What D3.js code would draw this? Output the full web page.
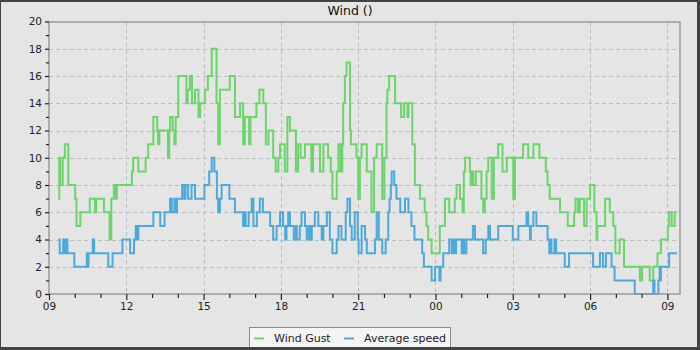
<!DOCTYPE html>
<html>
<head>
<meta charset="utf-8">
<script src="https://cdn.jsdelivr.net/npm/d3@7"></script>
<style>
  html, body { margin: 0; padding: 0; background: #e5e5e5; }
  svg { display: block; font-family: "DejaVu Sans", sans-serif; }
</style>
</head>
<body>
<svg id="chart" width="700" height="350"></svg>
<script>
// Wind gust, step changes (local time, next-day rollover handled below)
const gustTimes = ["09:22","09:24","09:26","09:32","09:37","09:45","10:01","10:04","10:13","10:35","10:47","10:50","11:08","11:21","11:25","11:31","11:35","11:38","12:13","12:16","12:28","12:45","12:51","13:03","13:12","13:14","13:17","13:37","13:40","13:42","13:48","13:52","13:55","14:01","14:20","14:23","14:28","14:33","14:40","14:48","14:52","15:03","15:10","15:19","15:30","15:34","15:38","16:01","16:13","16:25","16:32","16:36","16:46","16:49","17:03","17:10","17:19","17:25","17:31","17:42","17:48","17:54","17:58","18:09","18:15","18:21","18:35","18:40","18:46","18:56","19:11","19:15","19:31","19:39","19:50","19:56","20:00","20:10","20:14","20:19","20:23","20:25","20:29","20:33","20:41","20:43","20:56","21:00","21:04","21:08","21:20","21:31","21:37","21:43","21:56","22:01","22:06","22:08","22:12","22:26","22:40","22:47","22:55","22:57","23:06","23:12","23:24","23:35","23:39","23:43","23:51","00:10","00:22","00:32","00:45","00:49","00:57","01:03","01:06","01:09","01:20","01:22","01:25","01:28","01:34","01:47","01:51","01:55","01:59","02:03","02:11","02:16","02:26","02:36","02:46","03:01","03:05","03:24","03:36","03:48","04:02","04:17","04:21","04:26","04:50","05:08","05:23","05:26","05:32","05:36","05:46","05:52","06:00","06:10","06:15","06:17","06:35","06:46","06:54","06:59","07:09","07:19","07:56","08:01","08:19","08:27","08:37","08:45","09:01","09:04","09:10","09:17","09:22"];
const gustValues = [7,10,8,10,11,8,7,5,6,7,6,7,6,4,7,8,7,8,9,10,9,10,11,13,12,11,12,10,12,13,12,11,13,16,14,15,16,14,15,13,14,15,16,18,14,11,15,16,13,14,11,13,11,13,14,15,14,11,12,10,9,10,11,9,13,12,9,11,10,11,9,11,9,11,10,9,7,9,11,9,11,14,16,17,12,11,10,7,10,11,9,6,10,11,7,10,14,15,16,14,13,14,13,14,11,8,7,6,5,4,3,5,7,6,7,8,7,6,9,10,9,8,9,8,9,7,6,7,9,10,7,10,11,9,10,7,10,11,10,11,10,9,8,7,6,5,6,7,6,7,5,7,8,6,4,5,7,6,5,3,4,2,1,2,1,2,3,4,5,6,5,6,6];

// Average wind speed, step changes
const avgTimes = ["09:22","09:25","09:33","09:35","09:39","09:43","09:59","10:28","10:31","10:32","10:42","10:45","11:18","11:28","11:51","12:09","12:18","12:22","12:25","12:28","13:03","13:19","13:29","13:42","13:46","13:52","13:55","13:58","14:10","14:15","14:18","14:24","14:32","14:40","15:02","15:13","15:19","15:25","15:31","15:34","15:38","15:42","16:00","16:13","16:32","16:35","16:38","16:45","16:52","16:56","17:04","17:11","17:18","17:35","17:42","17:50","17:58","18:05","18:10","18:13","18:17","18:21","18:30","18:35","18:37","18:44","18:48","18:56","19:00","19:05","19:08","19:12","19:19","19:27","19:35","19:39","19:47","19:54","20:00","20:10","20:14","20:21","20:31","20:35","20:41","20:45","20:52","20:59","21:01","21:08","21:16","21:20","21:39","21:43","21:48","21:56","22:04","22:10","22:13","22:16","22:18","22:24","22:29","22:38","22:49","22:57","23:04","23:11","23:29","23:33","23:51","23:59","00:09","00:12","00:18","00:32","00:38","00:42","00:44","00:48","01:01","01:05","01:07","01:12","01:27","01:32","01:51","01:57","02:03","02:07","02:26","03:00","03:13","03:32","03:36","03:40","03:42","03:48","03:55","04:21","04:25","04:28","04:30","04:37","04:41","05:01","05:11","06:07","06:23","06:30","06:37","06:50","06:57","07:44","08:27","08:30","08:39","08:42","08:44","08:45","09:04","09:22"];
const avgValues = [4,3,4,3,4,3,2,3,2,3,4,3,2,3,4,3,4,5,4,5,6,5,6,7,6,7,6,7,8,7,8,7,8,7,8,9,10,9,7,6,7,8,7,6,5,6,5,6,7,5,6,7,6,5,4,5,6,5,4,5,6,5,4,5,4,5,6,5,4,5,4,5,6,5,4,5,6,4,3,4,5,4,6,7,5,4,6,4,3,5,4,3,4,6,4,3,4,6,7,8,9,8,7,6,7,6,5,4,3,2,1,2,1,2,3,4,3,4,3,4,3,4,3,4,5,4,3,4,5,4,5,4,5,6,5,4,5,6,5,4,3,4,3,4,3,2,3,2,3,2,3,2,1,0,1,0,1,2,1,2,3,3];

const seriesNames = ["Wind Gust", "Average speed"];
const seriesColors = ["#6dd46d", "#4ea9db"];
const yTickValues = [0, 2, 4, 6, 8, 10, 12, 14, 16, 18, 20];
const chartTitle = "Wind ()";

const startDay = new Date(2024, 4, 1);
function toDates(times) {
  let dayOffset = 0, prev = -1;
  return times.map(t => {
    const [h, m] = t.split(":").map(Number);
    const mins = h * 60 + m;
    if (mins < prev) dayOffset += 1;
    prev = mins;
    return new Date(startDay.getFullYear(), startDay.getMonth(), startDay.getDate() + dayOffset, h, m);
  });
}
const gust = toDates(gustTimes).map((d, i) => ({ t: d, v: gustValues[i] }));
const avg = toDates(avgTimes).map((d, i) => ({ t: d, v: avgValues[i] }));

const W = 700, H = 350;
const plot = { left: 49, right: 680, top: 22, bottom: 294 };

const svg = d3.select("#chart");

// background
svg.append("rect").attr("width", W).attr("height", H).attr("fill", "#e5e5e5");

const x = d3.scaleTime()
  .domain([new Date(2024, 4, 1, 9, 0), new Date(2024, 4, 2, 9, 29, 24)])
  .range([plot.left, plot.right]);
const y = d3.scaleLinear().domain([0, 20]).range([plot.bottom, plot.top - 0.5]);

const majorX = d3.timeHour.every(3).range(x.domain()[0], x.domain()[1]);
const minorX = d3.timeHour.every(1).range(x.domain()[0], x.domain()[1]);

// grid
const grid = svg.append("g").attr("stroke", "#bdbdbd").attr("stroke-width", 1)
  .attr("stroke-dasharray", "4,3").attr("shape-rendering", "crispEdges");
grid.selectAll("line.gx").data(majorX.slice(1)).join("line")
  .attr("x1", d => Math.round(x(d)) + 0.5).attr("x2", d => Math.round(x(d)) + 0.5)
  .attr("y1", plot.top).attr("y2", plot.bottom);
grid.selectAll("line.gy").data(yTickValues.slice(1, -1)).join("line")
  .attr("y1", d => Math.round(y(d)) + 0.5).attr("y2", d => Math.round(y(d)) + 0.5)
  .attr("x1", plot.left).attr("x2", plot.right);

// series lines
const line = d3.line().x(d => x(d.t)).y(d => y(d.v)).curve(d3.curveStepAfter);
[gust, avg].forEach((s, i) => {
  svg.append("path").datum(s)
    .attr("d", line)
    .attr("fill", "none")
    .attr("stroke", seriesColors[i])
    .attr("stroke-width", 2)
    .attr("stroke-linejoin", "miter");
});

// plot frame
svg.append("rect")
  .attr("x", plot.left).attr("y", plot.top)
  .attr("width", plot.right - plot.left).attr("height", plot.bottom - plot.top)
  .attr("fill", "none").attr("stroke", "#9a9a9a").attr("stroke-width", 1.5);

// x axis
const xAxis = d3.axisBottom(x).tickValues(majorX).tickFormat(d3.timeFormat("%H"))
  .tickSize(6).tickSizeOuter(0).tickPadding(3);
const gx = svg.append("g").attr("transform", `translate(0,${plot.bottom})`).call(xAxis);
gx.select(".domain").remove();
gx.selectAll(".tick line").attr("stroke", "#222").attr("stroke-width", 1.2);
gx.selectAll(".tick text").attr("fill", "#222").attr("font-size", 10.5)
  .attr("font-family", "DejaVu Sans");
const gxm = svg.append("g").attr("transform", `translate(0,${plot.bottom})`)
  .call(d3.axisBottom(x).tickValues(minorX.filter(d => d.getHours() % 3 !== 0)).tickSize(4).tickFormat(""));
gxm.select(".domain").remove();
gxm.selectAll(".tick line").attr("stroke", "#222").attr("stroke-width", 1.2);

// y axis
const yAxis = d3.axisLeft(y).tickValues(yTickValues).tickSize(4).tickSizeOuter(0).tickPadding(3);
const gy = svg.append("g").attr("transform", `translate(${plot.left},0)`).call(yAxis);
gy.select(".domain").remove();
gy.selectAll(".tick line").attr("stroke", "#222").attr("stroke-width", 1.2);
gy.selectAll(".tick text").attr("fill", "#222").attr("font-size", 10.5)
  .attr("font-family", "DejaVu Sans");
const gym = svg.append("g").attr("transform", `translate(${plot.left},0)`)
  .call(d3.axisLeft(y).tickValues(d3.range(1, 20, 2)).tickSize(3).tickFormat(""));
gym.select(".domain").remove();
gym.selectAll(".tick line").attr("stroke", "#222").attr("stroke-width", 1.2);

// title
svg.append("text").attr("x", 350).attr("y", 15).attr("text-anchor", "middle")
  .attr("font-size", 12.5).attr("fill", "#111").text(chartTitle);

// legend
const lg = svg.append("g");
lg.append("rect").attr("x", 249.5).attr("y", 327.5).attr("width", 201).attr("height", 21)
  .attr("fill", "#f4f4f4").attr("stroke", "#8a8a8a").attr("stroke-width", 1);
const legendX = [254, 344];
seriesNames.forEach((name, i) => {
  lg.append("line").attr("x1", legendX[i]).attr("x2", legendX[i] + 10)
    .attr("y1", 338.5).attr("y2", 338.5)
    .attr("stroke", seriesColors[i]).attr("stroke-width", 2);
  lg.append("text").attr("x", legendX[i] + 20).attr("y", 342)
    .attr("font-size", 11).attr("fill", "#222").text(name);
});

// outer frame
svg.append("rect").attr("x", 0).attr("y", 0).attr("width", W).attr("height", 2).attr("fill", "#444");
svg.append("rect").attr("x", W - 3).attr("y", 0).attr("width", 3).attr("height", H).attr("fill", "#444");
svg.append("rect").attr("x", 0).attr("y", H - 3).attr("width", W).attr("height", 3).attr("fill", "#444");
svg.append("rect").attr("x", 0).attr("y", 0).attr("width", 1).attr("height", H).attr("fill", "#444");
</script>
</body>
</html>
